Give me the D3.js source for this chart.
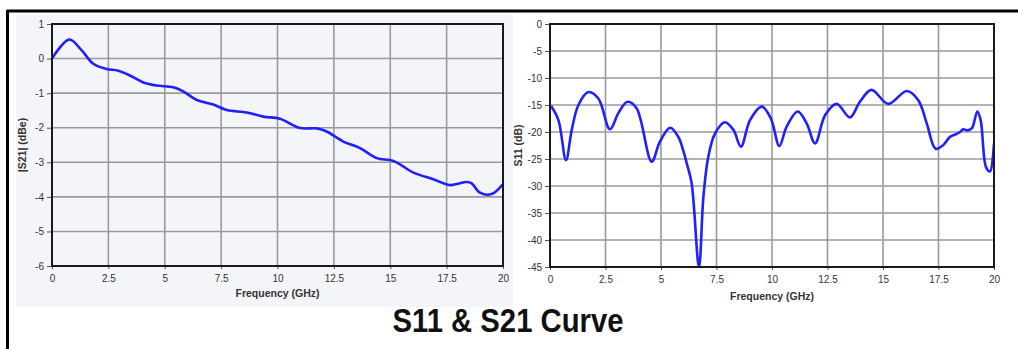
<!DOCTYPE html>
<html>
<head>
<meta charset="utf-8">
<script src="https://cdn.jsdelivr.net/npm/d3@7"></script>
<style>
  body { margin: 0; background: #fff; }
  svg { display: block; }
  .tick text { font-family: "Liberation Sans", Arial, sans-serif; font-size: 10px; fill: #333; }
</style>
</head>
<body>
<div class="main"></div>
<script>
// S21 insertion loss (left chart)
const s21Freq = [0, 0.77, 1.3, 1.83, 2.42, 2.94, 3.46, 4.05, 4.64, 5.38, 5.82, 6.42, 7.15, 7.75, 8.63, 9.37, 10.11,
                 11.0, 11.74, 12.18, 12.92, 13.66, 14.4, 15.14, 16.03, 16.91, 17.65, 18.39, 18.61, 18.98, 19.5, 20];
const s21Val  = [0, 0.55, 0.25, -0.15, -0.30, -0.35, -0.49, -0.69, -0.78, -0.83, -0.95, -1.20, -1.33, -1.49, -1.56, -1.68, -1.74,
                 -2.01, -2.02, -2.11, -2.40, -2.59, -2.88, -2.96, -3.30, -3.49, -3.66, -3.57, -3.61, -3.88, -3.92, -3.63];

// S11 return loss (right chart)
const s11Freq = [0.05, 0.38, 0.72, 0.98, 1.28, 1.73, 2.18, 2.70, 3.08, 3.49, 3.90, 4.58, 4.95, 5.41, 5.78, 6.0, 6.16, 6.38,
                 6.71, 6.91, 7.13, 7.43, 7.88, 8.26, 8.6, 9.01, 9.54, 9.95, 10.33, 10.66, 11.16, 11.56, 11.94, 12.39,
                 12.91, 13.51, 13.96, 14.48, 15.24, 16.07, 16.59, 16.97, 17.37, 17.72, 18.02, 18.3, 18.47, 18.62, 18.8,
                 19.0, 19.07, 19.25, 19.4, 19.64, 19.82, 20];
const s11Val  = [-15.2, -17.8, -25.2, -19.6, -15.0, -12.6, -13.8, -19.5, -16.5, -14.4, -15.6, -25.5, -21.8, -19.2, -20.9, -23.4, -25.8, -29.5,
                 -45, -32, -24.6, -20.3, -18.2, -19.6, -22.7, -17.8, -15.3, -17.5, -22.6, -19.0, -16.2, -18.4, -22.1, -16.9,
                 -14.8, -17.3, -14.4, -12.2, -14.8, -12.4, -14.1, -18.4, -23.1, -22.4, -20.9, -20.4, -20.0, -19.5, -19.7,
                 -19.3, -18.7, -16.2, -17.8, -26.5, -27.3, -22.1];

const xTicks = [0, 2.5, 5, 7.5, 10, 12.5, 15, 17.5, 20];
const s21Ticks = [1, 0, -1, -2, -3, -4, -5, -6];
const s11Ticks = [0, -5, -10, -15, -20, -25, -30, -35, -40, -45];

const width = 1018, height = 349;

const svg = d3.select("div.main").append("svg")
  .attr("width", width)
  .attr("height", height);

// outer frame: top and left lines only
svg.append("line").attr("x1", 7).attr("x2", width).attr("y1", 11).attr("y2", 11)
  .attr("stroke", "#000").attr("stroke-width", 3);
svg.append("line").attr("x1", 7.5).attr("x2", 7.5).attr("y1", 10).attr("y2", height)
  .attr("stroke", "#000").attr("stroke-width", 3);

// left panel background
svg.append("rect")
  .attr("x", 16).attr("y", 14)
  .attr("width", 497).attr("height", 293)
  .attr("fill", "#f4f5f8");

function drawChart(opt) {
  let x = d3.scaleLinear().domain([0, 20]).range([opt.left, opt.right]);
  let y = d3.scaleLinear().domain(opt.yDomain).range([opt.top, opt.bottom]);

  let g = svg.append("g");

  g.append("rect")
    .attr("x", opt.left).attr("y", opt.top)
    .attr("width", opt.right - opt.left).attr("height", opt.bottom - opt.top)
    .attr("fill", opt.plotFill);

  // grid
  g.selectAll(".vgrid").data(xTicks).enter().append("line")
    .attr("x1", d => x(d)).attr("x2", d => x(d))
    .attr("y1", opt.top).attr("y2", opt.bottom)
    .attr("stroke", "#9a9a9a").attr("stroke-width", 1.6);
  g.selectAll(".hgrid").data(opt.yTicks).enter().append("line")
    .attr("x1", opt.left).attr("x2", opt.right)
    .attr("y1", d => y(d)).attr("y2", d => y(d))
    .attr("stroke", "#9a9a9a").attr("stroke-width", 1.6);

  // axes (plain hyphen minus, like the original)
  let fmt = d => String(d);
  let xAxis = g.append("g")
    .attr("transform", "translate(0," + opt.bottom + ")")
    .call(d3.axisBottom(x).tickValues(xTicks).tickSize(3).tickPadding(6).tickFormat(fmt));
  let yAxis = g.append("g")
    .attr("transform", "translate(" + opt.left + ",0)")
    .call(d3.axisLeft(y).tickValues(opt.yTicks).tickSize(5).tickPadding(3).tickFormat(fmt));
  [xAxis, yAxis].forEach(a => {
    a.select(".domain").remove();
    a.selectAll(".tick line").attr("stroke", "#555");
  });

  // curve
  let clipId = "clip" + opt.id;
  svg.append("clipPath").attr("id", clipId).append("rect")
    .attr("x", opt.left).attr("y", opt.top)
    .attr("width", opt.right - opt.left).attr("height", opt.bottom - opt.top);

  let line = d3.line()
    .x((d, i) => x(opt.freq[i]))
    .y(d => y(d))
    .curve(d3.curveCatmullRom.alpha(0.5));

  g.append("path")
    .datum(opt.vals)
    .attr("clip-path", "url(#" + clipId + ")")
    .attr("d", line)
    .attr("fill", "none")
    .attr("stroke", "#1f1fff")
    .attr("stroke-width", 2.6)
    .attr("stroke-linejoin", "round");

  // plot border
  g.append("rect")
    .attr("x", opt.left).attr("y", opt.top)
    .attr("width", opt.right - opt.left).attr("height", opt.bottom - opt.top)
    .attr("fill", "none").attr("stroke", "#1a1a1a").attr("stroke-width", 2);

  // axis titles
  g.append("text")
    .text("Frequency (GHz)")
    .attr("x", (opt.left + opt.right) / 2)
    .attr("y", opt.xTitleY)
    .attr("text-anchor", "middle")
    .attr("font-family", "Liberation Sans, Arial, sans-serif")
    .attr("font-weight", "bold")
    .attr("font-size", "10.5px")
    .attr("fill", "#333");

  g.append("text")
    .text(opt.yTitle)
    .attr("transform", "translate(" + opt.yTitleX + "," + ((opt.top + opt.bottom) / 2) + ")rotate(-90)")
    .attr("text-anchor", "middle")
    .attr("font-family", "Liberation Sans, Arial, sans-serif")
    .attr("font-weight", "bold")
    .attr("font-size", "10.5px")
    .attr("fill", "#333");
}

drawChart({
  id: "s21", left: 52, right: 503, top: 24, bottom: 266,
  yDomain: [1, -6], yTicks: s21Ticks, freq: s21Freq, vals: s21Val,
  plotFill: "#f4f5f9", yTitle: "|S21| (dBe)", yTitleX: 26, xTitleY: 297
});

drawChart({
  id: "s11", left: 550, right: 994, top: 24, bottom: 267,
  yDomain: [0, -45], yTicks: s11Ticks, freq: s11Freq, vals: s11Val,
  plotFill: "#ffffff", yTitle: "S11 (dB)", yTitleX: 522, xTitleY: 300
});

// title
svg.append("text")
  .text("S11 & S21 Curve")
  .attr("x", 508)
  .attr("y", 332)
  .attr("text-anchor", "middle")
  .attr("font-family", "Liberation Sans Narrow, Liberation Sans, sans-serif")
  .attr("font-weight", "bold")
  .attr("font-size", "33px")
  .attr("textLength", 231)
  .attr("lengthAdjust", "spacingAndGlyphs")
  .attr("fill", "#111");
</script>
</body>
</html>
